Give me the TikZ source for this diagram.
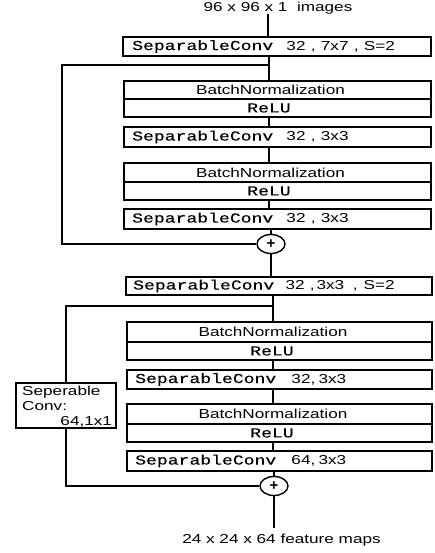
\documentclass[tikz,border=0pt]{standalone}
\usepackage{fontspec}
\usepackage{graphicx}
\setmainfont{Liberation Sans}
\newfontfamily\monofont[FakeBold=0.3]{Liberation Mono}
\usetikzlibrary{shapes.geometric}
\newcommand\sx[1]{\scalebox{1.32}[1]{#1}}
\newcommand\mn[1]{{\monofont\fontsize{13.7pt}{15pt}\selectfont #1}}
\newcommand\cm{\hspace{4pt},\hspace{4pt}}
\begin{document}
\begin{tikzpicture}[x=1pt,y=-1pt,font=\fontsize{13pt}{15pt}\selectfont,
  blk/.style={draw, line width=1.1pt, inner sep=0pt, outer sep=0pt},
  txt/.style={inner sep=0pt, anchor=west},
  ctxt/.style={inner sep=0pt},
  wire/.style={line width=1.8pt},
  sumnode/.style={draw, ellipse, fill=white, line width=1.4pt, minimum width=28pt, minimum height=19pt, inner sep=0pt, font=\fontsize{15pt}{16pt}\selectfont\bfseries}]
\useasboundingbox[fill=white] (0,0) rectangle (434,553);
\coordinate (sp) at (269,0);
\coordinate (sq) at (273,0);

% input label
\node[ctxt] (inlab) at (278,8) {\sx{96 x 96 x 1\ \ images}};

% ---- first block ----
\node[blk, minimum width=308pt, minimum height=19pt] (c1) at (277,46.5) {};
\node[txt] (t1) at (132,46.5) {\sx{\mn{SeparableConv}\hspace{10pt}32\cm 7x7\cm S=2}};

\node[blk, minimum width=307pt, minimum height=18pt] (b1) at (277.5,90) {};
\node[ctxt] (tb1) at (270.5,90) {\sx{BatchNormalization}};
\node[blk, minimum width=307pt, minimum height=18pt] (r1) at (277.5,108) {};
\node[ctxt] (tr1) at (269,108) {\sx{\mn{ReLU}}};

\node[blk, minimum width=307pt, minimum height=20pt] (c2) at (277.5,137) {};
\node[txt] (t2) at (132,137) {\sx{\mn{SeparableConv}\hspace{10pt}32\cm 3x3}};

\node[blk, minimum width=307pt, minimum height=19pt] (b2) at (277.5,172.5) {};
\node[ctxt] (tb2) at (270.5,172.5) {\sx{BatchNormalization}};
\node[blk, minimum width=307pt, minimum height=18pt] (r2) at (277.5,191) {};
\node[ctxt] (tr2) at (269,191) {\sx{\mn{ReLU}}};

\node[blk, minimum width=307pt, minimum height=20pt] (c3) at (277.5,219) {};
\node[txt] (t3) at (132,219) {\sx{\mn{SeparableConv}\hspace{10pt}32\cm 3x3}};

\node[sumnode] (p1) at (271,244) {+};

% ---- second block ----
\node[blk, minimum width=306pt, minimum height=18pt] (c4) at (279,286) {};
\node[txt] (t4) at (133,286) {\sx{\mn{SeparableConv}\hspace{8.5pt}32\hspace{4pt},\hspace{1.5pt}3x3\hspace{6.5pt},\hspace{4.5pt}S=2}};

\node[blk, minimum width=305pt, minimum height=20pt] (b3) at (279.5,332) {};
\node[ctxt] (tb3) at (273,332) {\sx{BatchNormalization}};
\node[blk, minimum width=305pt, minimum height=18pt] (r3) at (279.5,351) {};
\node[ctxt] (tr3) at (272,351) {\sx{\mn{ReLU}}};

\node[blk, minimum width=305pt, minimum height=19pt] (c5) at (279.5,379.5) {};
\node[txt] (t5) at (135,379.5) {\sx{\mn{SeparableConv}\hspace{11.5pt}32,\hspace{2.5pt}3x3}};

\node[blk, minimum width=305pt, minimum height=20pt] (b4) at (279.5,414) {};
\node[ctxt] (tb4) at (273,414) {\sx{BatchNormalization}};
\node[blk, minimum width=305pt, minimum height=18pt] (r4) at (279.5,433) {};
\node[ctxt] (tr4) at (272,433) {\sx{\mn{ReLU}}};

\node[blk, minimum width=305pt, minimum height=20pt] (c6) at (279.5,461) {};
\node[txt] (t6) at (135,461) {\sx{\mn{SeparableConv}\hspace{11.5pt}64,\hspace{2.5pt}3x3}};

\node[sumnode] (p2) at (274,486) {+};

% shortcut conv box
\node[blk, minimum width=100pt, minimum height=45pt] (sc) at (66,405.5) {};
\node[txt, anchor=north west] (tsc) at (22,385) {\sx{\begin{tabular}{@{}l@{}}Seperable\\Conv:\\\hspace{29pt}64,1x1\end{tabular}}};

% output label
\node[ctxt] (outlab) at (281.5,540) {\sx{24 x 24 x 64 feature maps}};
\coordinate (oend) at (274,528);

% ---- connectors ----
\draw[wire] (inlab.south -| 268,0) -- (c1.north -| 268,0);
\draw[wire] (c1.south -| sp) -- (b1.north -| sp);
\draw[wire] (r1.south -| sp) -- (c2.north -| sp);
\draw[wire] (c2.south -| sp) -- (b2.north -| sp);
\draw[wire] (r2.south -| sp) -- (c3.north -| sp);
\draw[wire] (c3.south -| p1) -- (p1.north);
\coordinate (k1) at (62,65);
\draw[wire] (k1 -| sp) -- (k1) -- (k1 |- p1) -- (p1.west);
\draw[wire] (p1.south) -- (c4.north -| p1);

\draw[wire] (c4.south -| sq) -- (b3.north -| sq);
\draw[wire] (r3.south -| sq) -- (c5.north -| sq);
\draw[wire] (c5.south -| sq) -- (b4.north -| sq);
\draw[wire] (r4.south -| sq) -- (c6.north -| sq);
\draw[wire] (c6.south -| p2) -- (p2.north);
\coordinate (k2) at (66,306);
\draw[wire] (k2 -| sq) -- (k2) -- (sc.north);
\draw[wire] (sc.south) -- (sc.south |- p2) -- (p2.west);
\draw[wire] (p2.south) -- (oend);
\end{tikzpicture}
\end{document}
